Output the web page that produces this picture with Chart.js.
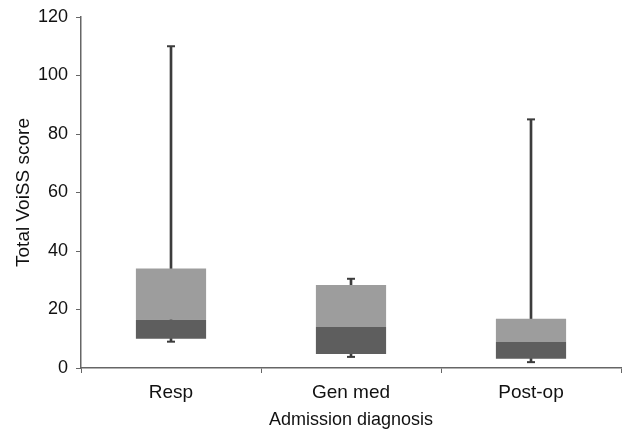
<!DOCTYPE html>
<html>
<head>
<meta charset="utf-8">
<script src="https://cdn.jsdelivr.net/npm/chart.js@4.4.1/dist/chart.umd.min.js"></script>
<style>
  html, body { margin: 0; padding: 0; background: #fff; }
  #wrap { width: 622px; height: 432px; }
</style>
</head>
<body>
<div id="wrap"><canvas id="boxChart"></canvas></div>
<script>
// Box plot values
const categories = ['Resp', 'Gen med', 'Post-op'];
const minVals = [9, 3.8, 2];
const q1Vals = [10, 4.8, 3.2];
const medianVals = [16.5, 14, 8.9];
const q3Vals = [34, 28.4, 16.8];
const maxVals = [110, 30.5, 85];
const yTicks = [0, 20, 40, 60, 80, 100, 120];

const lowerBox = categories.map((c, i) => [q1Vals[i], medianVals[i]]);
const upperBox = categories.map((c, i) => [medianVals[i], q3Vals[i]]);
const whisker = categories.map((c, i) => [minVals[i], maxVals[i]]);

const font = { family: 'Liberation Sans, Arial, sans-serif' };

new Chart(document.getElementById('boxChart'), {
    data: {
        labels: categories,
        datasets: [
            {
                type: 'bar',
                label: 'whisker',
                data: whisker,
                backgroundColor: '#3c3c3c',
                barThickness: 2,
                grouped: false,
                order: 3
            },
            {
                type: 'bar',
                label: 'Q1-median',
                data: lowerBox,
                backgroundColor: '#5e5e5e',
                categoryPercentage: 1,
                barPercentage: 0.39,
                grouped: false,
                order: 2
            },
            {
                type: 'bar',
                label: 'median-Q3',
                data: upperBox,
                backgroundColor: '#9d9d9d',
                categoryPercentage: 1,
                barPercentage: 0.39,
                grouped: false,
                order: 2
            },
            {
                type: 'line',
                label: 'max',
                data: maxVals,
                showLine: false,
                pointStyle: 'line',
                pointRadius: 4,
                pointBorderWidth: 2,
                borderColor: '#3c3c3c',
                order: 1
            },
            {
                type: 'line',
                label: 'min',
                data: minVals,
                showLine: false,
                pointStyle: 'line',
                pointRadius: 4,
                pointBorderWidth: 2,
                borderColor: '#3c3c3c',
                order: 1
            }
        ]
    },
    options: {
        responsive: true,
        maintainAspectRatio: false,
        animation: false,
        layout: { autoPadding: false, padding: { top: 0, right: 1, left: 8, bottom: 1 } },
        plugins: {
            legend: { display: false },
            tooltip: { enabled: false }
        },
        scales: {
            x: {
                offset: true,
                afterFit: (axis) => {
                    axis.height = 63;
                    axis.paddingLeft = 0;
                    axis.paddingRight = 0;
                },
                grid: {
                    offset: true,
                    drawOnChartArea: false,
                    drawTicks: true,
                    tickLength: 5,
                    color: '#666'
                },
                border: { color: '#666', width: 1.5 },
                ticks: { color: '#111', font: { ...font, size: 19 }, padding: 8 },
                title: {
                    display: true,
                    text: 'Admission diagnosis',
                    color: '#111',
                    font: { ...font, size: 18 },
                    padding: { top: 4, bottom: 0 }
                }
            },
            y: {
                min: 0,
                max: 120,
                afterFit: (axis) => {
                    axis.width = 73;
                    axis.paddingTop = 17;
                },
                afterBuildTicks: (axis) => { axis.ticks = yTicks.map(v => ({ value: v })); },
                grid: {
                    drawOnChartArea: false,
                    drawTicks: true,
                    tickLength: 5,
                    color: '#666'
                },
                border: { color: '#666', width: 1.5 },
                ticks: { color: '#111', font: { ...font, size: 18 }, padding: 8 },
                title: {
                    display: true,
                    text: 'Total VoiSS score',
                    color: '#111',
                    font: { ...font, size: 19 },
                    padding: { top: 4, bottom: 3 }
                }
            }
        }
    }
});
</script>
</body>
</html>
